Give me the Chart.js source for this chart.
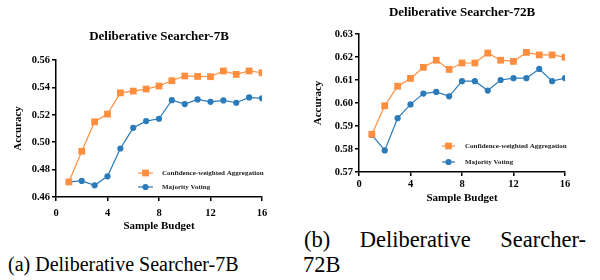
<!DOCTYPE html>
<html>
<head>
<meta charset="utf-8">
<script src="https://cdn.jsdelivr.net/npm/chart.js@4"></script>
<style>
  body { margin: 0; background: #fff; width: 600px; height: 280px; position: relative; overflow: hidden; }
  .box { position: absolute; }
  .cap { position: absolute; font-family: 'Liberation Serif', serif; font-size: 20px; color: #000; line-height: 25px; }
  .big { font-size: 22.5px; }
  .just { display: flex; justify-content: space-between; }
</style>
</head>
<body>
<div class="box" style="left:0;top:20px;width:300px;height:220px;"><canvas id="chart-7b"></canvas></div>
<div class="box" style="left:300px;top:0;width:300px;height:210px;"><canvas id="chart-72b"></canvas></div>
<div class="cap" style="left:8px;top:252px;">(a) Deliberative Searcher-7B</div>
<div class="cap big just" style="left:304px;top:227px;width:282px;"><span>(b)</span><span>Deliberative</span><span>Searcher-</span></div>
<div class="cap big" style="left:303px;top:252px;">72B</div>

<script>
// サンプル数
const budgets = [1, 2, 3, 4, 5, 6, 7, 8, 9, 10, 11, 12, 13, 14, 15, 16];
const xTicks = [0, 4, 8, 12, 16];

// 7B の精度
const conf7b = [0.471, 0.4934, 0.5149, 0.5205, 0.536, 0.5373, 0.5388, 0.541, 0.5449, 0.5483, 0.548, 0.5478, 0.552, 0.5495, 0.552, 0.5507];
const vote7b = [0.471, 0.4717, 0.4685, 0.4751, 0.4954, 0.5105, 0.5154, 0.5171, 0.5307, 0.5278, 0.5312, 0.5295, 0.5305, 0.5288, 0.5327, 0.532];

// 72B の精度
const conf72b = [0.5864, 0.5988, 0.6073, 0.6107, 0.6155, 0.6186, 0.6146, 0.6174, 0.6174, 0.6217, 0.6186, 0.6181, 0.622, 0.6209, 0.6209, 0.6199];
const vote72b = [0.5861, 0.5794, 0.5934, 0.5994, 0.6041, 0.6048, 0.6029, 0.6095, 0.6095, 0.6054, 0.61, 0.6108, 0.6108, 0.6148, 0.6095, 0.6108];

const seriesNames = ['Confidence-weighted Aggregation', 'Majority Voting'];
const serif = "'Liberation Serif', serif";
const orange = '#FF8F3F';
const blue = '#2B7BBA';

// グラフ内の凡例とタイトルを描く
const innerLegend = {
  id: 'innerLegend',
  afterDatasetsDraw(chart, args, opts) {
    const ctx = chart.ctx;
    const area = chart.chartArea;
    ctx.save();
    // タイトル（プロット領域の中央）
    ctx.fillStyle = '#000';
    ctx.font = 'bold 13px ' + serif;
    ctx.textAlign = 'center';
    ctx.textBaseline = 'middle';
    ctx.fillText(opts.title, (area.left + area.right) / 2, opts.titleY);

    chart.data.datasets.forEach((ds, i) => {
      const y = area.bottom + opts.rows[i];
      const x0 = area.left + opts.lineX;
      const x1 = x0 + opts.lineW;
      ctx.strokeStyle = ds.borderColor;
      ctx.lineWidth = 1.2;
      ctx.beginPath();
      ctx.moveTo(x0, y);
      ctx.lineTo(x1, y);
      ctx.stroke();
      ctx.fillStyle = ds.backgroundColor;
      const cx = (x0 + x1) / 2;
      if (ds.pointStyle === 'rect') {
        ctx.fillRect(cx - 3.4, y - 3.4, 6.8, 6.8);
      } else {
        ctx.beginPath();
        ctx.arc(cx, y, 3.1, 0, Math.PI * 2);
        ctx.fill();
      }
      ctx.fillStyle = '#222';
      ctx.font = 'bold 7px ' + serif;
      ctx.textBaseline = 'middle';
      ctx.textAlign = 'left';
      ctx.fillText(ds.label, area.left + opts.textX, y);
    });
    ctx.restore();
  }
};

function makeChart(id, title, conf, vote, yMin, yMax, yStep, dec, lay) {
  const ctx = document.getElementById(id);
  lay.legend.title = title;
  return new Chart(ctx, {
    type: 'line',
    data: {
      datasets: [
        {
          label: seriesNames[0],
          data: budgets.map((b, i) => ({ x: b, y: conf[i] })),
          borderColor: orange,
          backgroundColor: orange,
          borderWidth: 1.2,
          pointStyle: 'rect',
          pointRadius: 4.8,
          pointBorderWidth: 0,
          tension: 0
        },
        {
          label: seriesNames[1],
          data: budgets.map((b, i) => ({ x: b, y: vote[i] })),
          borderColor: blue,
          backgroundColor: blue,
          borderWidth: 1.2,
          pointStyle: 'circle',
          pointRadius: 3.1,
          pointBorderWidth: 0,
          tension: 0
        }
      ]
    },
    options: {
      responsive: true,
      maintainAspectRatio: false,
      animation: false,
      layout: { padding: { left: 0, right: lay.padRight, top: lay.padTop, bottom: 0 } },
      plugins: {
        legend: { display: false },
        tooltip: { enabled: false },
        title: { display: false },
        innerLegend: lay.legend
      },
      scales: {
        x: {
          type: 'linear',
          min: 0,
          max: 16,
          afterBuildTicks: (s) => { s.ticks = xTicks.map(v => ({ value: v })); },
          afterFit: (s) => { s.height = lay.xHeight; },
          border: { color: '#000', width: 1.5 },
          grid: { display: true, drawOnChartArea: false, drawTicks: true, tickLength: 4, color: '#000', lineWidth: 1.5 },
          ticks: { color: '#000', padding: lay.xTickPad, font: { family: serif, size: 10.5, weight: 'bold' } },
          title: {
            display: true,
            text: 'Sample Budget',
            color: '#000',
            font: { family: serif, size: 11, weight: 'bold' },
            padding: lay.xTitlePad
          }
        },
        y: {
          min: yMin,
          max: yMax,
          afterFit: (s) => { s.width = lay.yWidth; },
          border: { color: '#000', width: 1.5 },
          grid: { display: true, drawOnChartArea: false, drawTicks: true, tickLength: 4, color: '#000', lineWidth: 1.5 },
          ticks: {
            stepSize: yStep,
            color: '#000',
            padding: 2,
            font: { family: serif, size: 10.5, weight: 'bold' },
            callback: (v) => v.toFixed(dec)
          },
          title: {
            display: true,
            text: 'Accuracy',
            color: '#000',
            font: { family: serif, size: 11, weight: 'bold' },
            padding: lay.yTitlePad
          }
        }
      }
    },
    plugins: [innerLegend]
  });
}

function drawAll() {
  makeChart('chart-7b', 'Deliberative Searcher-7B', conf7b, vote7b, 0.46, 0.56, 0.02, 2, {
    padRight: 38,
    padTop: 40,
    xHeight: 43,
    xTickPad: 6,
    xTitlePad: { top: 4, bottom: 7 },
    yWidth: 56,
    yTitlePad: { top: 12, bottom: 4 },
    legend: { titleY: 17, lineX: 82, lineW: 15, textX: 106, rows: [-24, -10] }
  });

  makeChart('chart-72b', 'Deliberative Searcher-72B', conf72b, vote72b, 0.57, 0.63, 0.01, 2, {
    padRight: 35,
    padTop: 34,
    xHeight: 38,
    xTickPad: 2,
    xTitlePad: { top: 4, bottom: 5 },
    yWidth: 59,
    yTitlePad: { top: 12, bottom: 4 },
    legend: { titleY: 13, lineX: 83, lineW: 13, textX: 106, rows: [-26, -10] }
  });
}

// フォント読み込み後に描画
Promise.all([
  document.fonts.load("bold 10px 'Liberation Serif'"),
  document.fonts.load("20px 'Liberation Serif'")
]).then(drawAll, drawAll);
</script>
</body>
</html>
